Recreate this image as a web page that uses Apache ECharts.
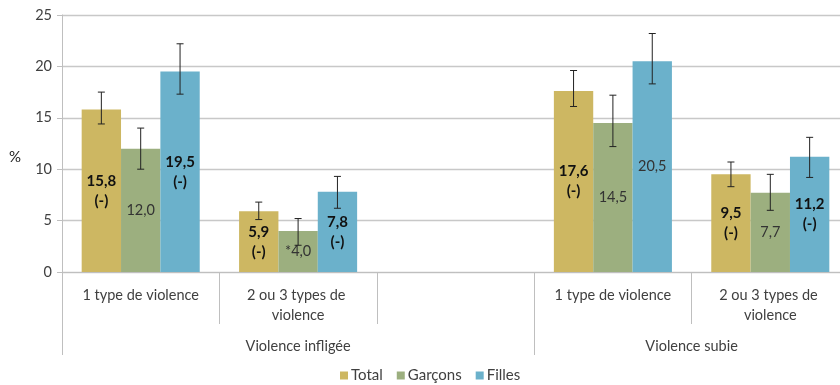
<!DOCTYPE html>
<html>
<head>
<meta charset="utf-8">
<script src="https://cdn.jsdelivr.net/npm/echarts@6/dist/echarts.min.js"></script>
<style>html,body{margin:0;padding:0;background:#fff;overflow:hidden}#c{width:852px;height:385px}</style>
</head>
<body>
<div id="c"></div>
<script>
// ---- data ----
const categories = ['1 type de violence', '2 ou 3 types de violence', '', '1 type de violence', '2 ou 3 types de violence'];
const groups = ['Violence infligée', 'Violence subie'];
const groupSpans = [3, 2];
const seriesNames = ['Total', 'Garçons', 'Filles'];
const totalValues = [15.8, 5.9, null, 17.6, 9.5];
const garconsValues = [12.0, 4.0, null, 14.5, 7.7];
const fillesValues = [19.5, 7.8, null, 20.5, 11.2];
const totalLow = [14.4, 5.1, null, 16.1, 8.3];
const totalHigh = [17.5, 6.8, null, 19.6, 10.7];
const garconsLow = [10.0, 2.6, null, 12.2, 6.0];
const garconsHigh = [14.0, 5.2, null, 17.2, 9.5];
const fillesLow = [17.3, 6.2, null, 18.3, 9.2];
const fillesHigh = [22.2, 9.3, null, 23.2, 13.1];
// significant difference flags "(-)" and low-reliability flags "*"
const totalSig = [true, true, false, true, true];
const garconsSig = [false, false, false, false, false];
const fillesSig = [true, true, false, false, true];
const garconsStar = [false, true, false, false, false];
const noStar = [false, false, false, false, false];
const yTicks = [0, 5, 10, 15, 20, 25];

const colors = ['#CDB762', '#9CAF7F', '#6BB1CB'];
const FONT = 'Lato';

const values = [totalValues, garconsValues, fillesValues];
const lows = [totalLow, garconsLow, fillesLow];
const highs = [totalHigh, garconsHigh, fillesHigh];
const sigs = [totalSig, garconsSig, fillesSig];
const stars = [noStar, garconsStar, noStar];

function fmt(v) { return v.toFixed(1).replace('.', ','); }

const groupEdges = [0];
groupSpans.forEach(s => groupEdges.push(groupEdges[groupEdges.length - 1] + s));
const groupCenters = groupSpans.map((s, i) => groupEdges[i] + s / 2);

const series = [];
values.forEach((vals, k) => {
  series.push({
    name: seriesNames[k],
    type: 'bar',
    xAxisIndex: 0,
    barGap: '0%',
    barCategoryGap: '25%',
    itemStyle: { color: colors[k] },
    data: vals,
    label: {
      show: true,
      position: 'inside',
      fontFamily: FONT,
      formatter: p => {
        const i = p.dataIndex;
        if (p.value == null) return '';
        const txt = (stars[k][i] ? '*' : '') + fmt(p.value);
        return sigs[k][i] ? '{b|' + txt + '}\n{b|(-)}' : '{n|' + txt + '}';
      },
      rich: {
        b: { fontFamily: FONT, fontSize: 15, fontWeight: 'bold', color: '#111', lineHeight: 20 },
        n: { fontFamily: FONT, fontSize: 14.5, color: '#333', lineHeight: 20 }
      }
    }
  });
});
values.forEach((vals, k) => {
  const d = [];
  vals.forEach((v, i) => { if (v != null) d.push([i, lows[k][i], highs[k][i]]); });
  series.push({
    type: 'custom',
    xAxisIndex: 0,
    z: 5,
    silent: true,
    encode: { x: 0, y: [1, 2] },
    data: d,
    renderItem: (params, api) => {
      const x = api.value(0);
      const lo = api.coord([x, api.value(1)]);
      const hi = api.coord([x, api.value(2)]);
      const band = api.size([1, 0])[0];
      const bw = band * 0.25;
      const cx = lo[0] + (k - 1) * bw;
      const cap = 3.5;
      const st = { stroke: '#222', lineWidth: 1 };
      return {
        type: 'group',
        children: [
          { type: 'line', shape: { x1: cx, y1: lo[1], x2: cx, y2: hi[1] }, style: st },
          { type: 'line', shape: { x1: cx - cap, y1: lo[1], x2: cx + cap, y2: lo[1] }, style: st },
          { type: 'line', shape: { x1: cx - cap, y1: hi[1], x2: cx + cap, y2: hi[1] }, style: st }
        ]
      };
    }
  });
});

const chart = echarts.init(document.getElementById('c'), null, { renderer: 'canvas' });
chart.setOption({
  animation: false,
  textStyle: { fontFamily: FONT },
  legend: {
    data: seriesNames,
    bottom: -3,
    left: 335,
    icon: 'rect',
    itemWidth: 8,
    itemHeight: 8,
    itemGap: 14,
    textStyle: { fontFamily: FONT, fontSize: 15, color: '#404040', padding: [0, 0, 0, -2] }
  },
  grid: { left: 62, top: 15, width: 787, height: 257, containLabel: false },
  xAxis: [
    {
      type: 'category',
      data: categories,
      axisLine: { lineStyle: { color: '#bfbfbf', width: 1 } },
      axisTick: { show: true, interval: 0, length: 52, lineStyle: { color: '#bfbfbf' } },
      axisLabel: {
        interval: 0, margin: 13, width: 130, overflow: 'break',
        fontFamily: FONT, fontSize: 14.5, color: '#404040', lineHeight: 20
      }
    },
    {
      type: 'value',
      position: 'bottom',
      min: 0,
      max: groupEdges[groupEdges.length - 1],
      axisLine: { show: false },
      splitLine: { show: false },
      axisTick: { show: true, customValues: groupEdges, length: 83, lineStyle: { color: '#bfbfbf' } },
      axisLabel: {
        customValues: groupCenters,
        formatter: v => groups[groupCenters.indexOf(v)] || '',
        margin: 67,
        fontFamily: FONT, fontSize: 14.5, color: '#404040'
      }
    }
  ],
  yAxis: {
    type: 'value',
    min: yTicks[0],
    max: yTicks[yTicks.length - 1],
    interval: 5,
    name: '%',
    nameLocation: 'middle',
    nameRotate: 0,
    nameGap: 41,
    nameTextStyle: { fontFamily: FONT, fontSize: 15, color: '#222', verticalAlign: 'top', lineHeight: 28 },
    axisLine: { show: true, lineStyle: { color: '#bfbfbf' } },
    axisTick: { show: true, length: 5, lineStyle: { color: '#bfbfbf' } },
    splitLine: { lineStyle: { color: '#c8c8c8', width: 1.3 } },
    axisLabel: { margin: 10, fontFamily: FONT, fontSize: 14.5, color: '#404040' }
  },
  series: series
});
</script>
</body>
</html>
